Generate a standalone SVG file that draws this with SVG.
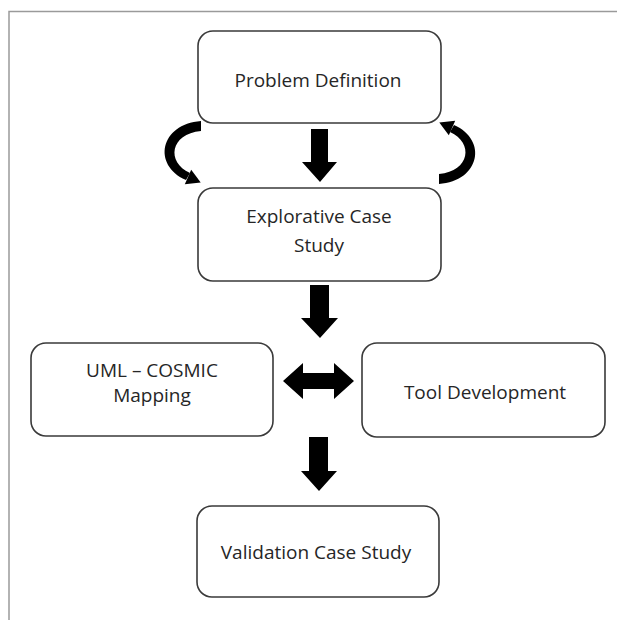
<svg xmlns="http://www.w3.org/2000/svg" width="617" height="620" viewBox="0 0 617 620">
  <style>
    .box { fill: #ffffff; stroke: #3a3a3a; stroke-width: 1.6; }
    .lbl { font-family: "Open Sans", "Liberation Sans", sans-serif; font-size: 19px; fill: #262626; text-anchor: middle; }
    .blk { fill: #000000; }
  </style>
  <rect x="0" y="0" width="617" height="620" fill="#ffffff"/>
  <!-- page frame -->
  <path d="M 9 620 L 9 11.5 L 617 11.5" fill="none" stroke="#9a9a9a" stroke-width="1.5"/>

  <g id="problem-definition">
    <rect class="box" x="198" y="31" width="243" height="92" rx="15"/>
    <text class="lbl" x="318" y="87">Problem Definition</text>
  </g>
  <g id="explorative-case-study">
    <rect class="box" x="198" y="188" width="243" height="93" rx="15"/>
    <text class="lbl" x="319" y="223">Explorative Case</text>
    <text class="lbl" x="319" y="252">Study</text>
  </g>
  <g id="uml-cosmic-mapping">
    <rect class="box" x="31" y="343" width="242" height="93" rx="15"/>
    <text class="lbl" x="152" y="377">UML – COSMIC</text>
    <text class="lbl" x="152" y="402">Mapping</text>
  </g>
  <g id="tool-development">
    <rect class="box" x="362" y="343" width="243" height="94" rx="15"/>
    <text class="lbl" x="485" y="399">Tool Development</text>
  </g>
  <g id="validation-case-study">
    <rect class="box" x="197" y="506" width="242" height="91" rx="15"/>
    <text class="lbl" x="316" y="559">Validation Case Study</text>
  </g>

  <g id="connectors">
    <!-- straight down arrows -->
    <polygon class="blk" points="311,129 328,129 328,162 337,162 320,182 302,162 311,162"/>
    <polygon class="blk" points="310,285 329,285 329,318 338,318 320,338 301,318 310,318"/>
    <polygon class="blk" points="309,437 328,437 328,471 337,471 319,491 301,471 309,471"/>
    <!-- two-way arrow -->
    <polygon class="blk" points="283,381 303,363 303,373 334,373 334,363 354,381 334,399 334,389 303,389 303,399"/>
    <!-- iteration loops: tapered curved arrows -->
    <path class="blk" d="M 201 121 C 160 124, 152 165, 186 180 L 190 173 C 166 162, 170 134, 201 131 Z"/>
    <polygon class="blk" points="200.7,182.6 184.8,184.3 191.2,169.7"/>
    <path class="blk" d="M 439 184 C 480 181, 488 140, 454 125 L 450 132 C 474 143, 470 171, 439 174 Z"/>
    <polygon class="blk" points="439.3,122.4 455.2,120.7 448.8,135.3"/>
  </g>
</svg>
